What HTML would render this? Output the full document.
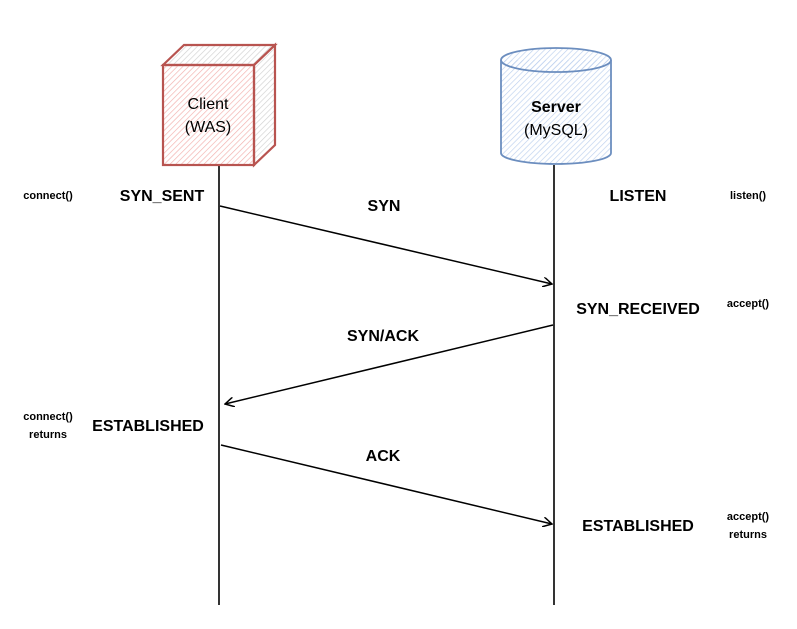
<!DOCTYPE html>
<html><head><meta charset="utf-8"><style>
html,body{margin:0;padding:0;background:#fff}
svg text{font-family:"Liberation Sans",sans-serif;fill:#000}
.b{font-weight:bold;font-size:16px}
.s{font-size:11px;font-weight:bold}
</style></head><body>
<svg width="797" height="624" viewBox="0 0 797 624" xmlns="http://www.w3.org/2000/svg">
<defs>
<pattern id="hr" width="4" height="4" patternUnits="userSpaceOnUse" patternTransform="rotate(45)"><line x1="0" y1="0" x2="0" y2="4" stroke="#f2aeab" stroke-width="1.3"/></pattern>
<pattern id="hr2" width="4" height="4" patternUnits="userSpaceOnUse" patternTransform="rotate(45)"><line x1="0" y1="0" x2="0" y2="4" stroke="#d0d0d0" stroke-width="1.3"/></pattern>
<pattern id="hb" width="4" height="4" patternUnits="userSpaceOnUse" patternTransform="rotate(45)"><line x1="0" y1="0" x2="0" y2="4" stroke="#bcd0ee" stroke-width="1.3"/></pattern>
<marker id="ar" markerWidth="10" markerHeight="10" refX="9" refY="5" orient="auto" markerUnits="userSpaceOnUse"><path d="M0,0 L9,5 L0,10" fill="none" stroke="#000" stroke-width="1.5"/></marker>
</defs>
<line x1="219" y1="165" x2="219" y2="605" stroke="#000" stroke-width="1.6"/>
<line x1="554" y1="165" x2="554" y2="605" stroke="#000" stroke-width="1.6"/>
<polygon points="254,65 275,45 275,145 254,165" fill="url(#hr2)" stroke="#b85450" stroke-width="2.2"/>
<polygon points="163,65 184,45 275,45 254,65" fill="url(#hr2)" stroke="#b85450" stroke-width="2.2"/>
<rect x="163" y="65" width="91" height="100" fill="url(#hr)" stroke="#b85450" stroke-width="2.2"/>
<text x="208" y="109" text-anchor="middle" style="font-size:16px">Client</text>
<text x="208" y="132" text-anchor="middle" style="font-size:16px">(WAS)</text>
<path d="M501,60 L501,153 A55,11 0 0 0 611,153 L611,60" fill="url(#hb)" stroke="#6c8ebf" stroke-width="1.8"/>
<ellipse cx="556" cy="60" rx="55" ry="12" fill="url(#hb)" stroke="#6c8ebf" stroke-width="1.8"/>
<text x="556" y="112" text-anchor="middle" style="font-size:16px;font-weight:bold">Server</text>
<text x="556" y="135" text-anchor="middle" style="font-size:16px">(MySQL)</text>
<line x1="220" y1="206" x2="552" y2="284" stroke="#000" stroke-width="1.5" marker-end="url(#ar)"/>
<line x1="553" y1="325" x2="225" y2="404" stroke="#000" stroke-width="1.5" marker-end="url(#ar)"/>
<line x1="221" y1="445" x2="552" y2="524" stroke="#000" stroke-width="1.5" marker-end="url(#ar)"/>
<text class="b" x="384" y="211" text-anchor="middle">SYN</text>
<text class="b" x="383" y="341" text-anchor="middle">SYN/ACK</text>
<text class="b" x="383" y="461" text-anchor="middle">ACK</text>
<text class="b" x="162" y="201" text-anchor="middle">SYN_SENT</text>
<text class="b" x="148" y="431" text-anchor="middle">ESTABLISHED</text>
<text class="b" x="638" y="201" text-anchor="middle">LISTEN</text>
<text class="b" x="638" y="314" text-anchor="middle">SYN_RECEIVED</text>
<text class="b" x="638" y="531" text-anchor="middle">ESTABLISHED</text>
<text class="s" x="48" y="199" text-anchor="middle">connect()</text>
<text class="s" x="48" y="420" text-anchor="middle">connect()</text>
<text class="s" x="48" y="438" text-anchor="middle">returns</text>
<text class="s" x="748" y="199" text-anchor="middle">listen()</text>
<text class="s" x="748" y="307" text-anchor="middle">accept()</text>
<text class="s" x="748" y="520" text-anchor="middle">accept()</text>
<text class="s" x="748" y="538" text-anchor="middle">returns</text>
</svg>
</body></html>
